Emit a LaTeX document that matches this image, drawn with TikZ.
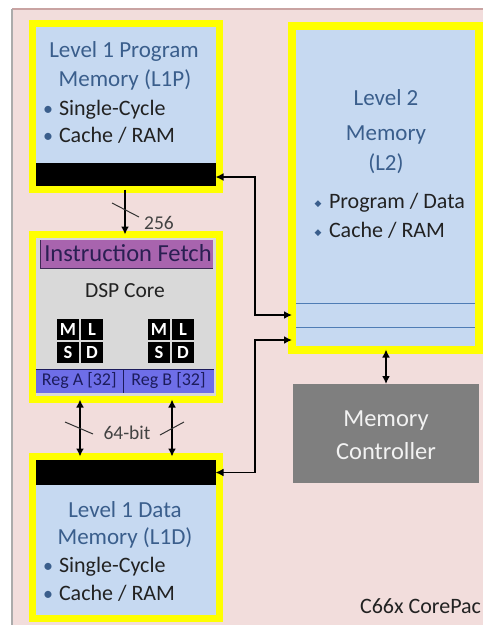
\documentclass[tikz,border=0pt]{standalone}
\usepackage{fontspec}
\setmainfont{Carlito}
\newfontfamily\symfont{DejaVu Sans}
\usetikzlibrary{arrows.meta,calc}

\definecolor{bgpink}{HTML}{F2DDDC}
\definecolor{edgepink}{HTML}{C9A3A2}
\definecolor{edgegray}{HTML}{ABABAB}
\definecolor{memblue}{HTML}{C6D9F1}
\definecolor{titleblue}{HTML}{3A5E8C}
\definecolor{bodytext}{HTML}{222222}
\definecolor{coregray}{HTML}{D9D9D9}
\definecolor{fetchpurple}{HTML}{A864AE}
\definecolor{fetchtext}{HTML}{2A1F52}
\definecolor{fetchedge}{HTML}{3E2A55}
\definecolor{regblue}{HTML}{6E6EE8}
\definecolor{regtext}{HTML}{1C1C5C}
\definecolor{rowline}{HTML}{4F7DB5}
\definecolor{ctrlgray}{HTML}{7F7F7F}
\definecolor{ctrltext}{HTML}{F2F2F2}
\definecolor{hiyellow}{HTML}{FFFF00}

\begin{document}
\begin{tikzpicture}[x=1pt,y=-1pt,
  every node/.style={outer sep=0pt, inner sep=0pt},
  membox/.style={rectangle, draw=hiyellow, line width=7pt, fill=memblue},
  corebox/.style={rectangle, draw=hiyellow, line width=7pt, fill=coregray},
  busbar/.style={rectangle, fill=black},
  unitcell/.style={rectangle, fill=black, minimum width=22pt, minimum height=21pt,
    text=white, font=\fontsize{18.5}{18}\selectfont\bfseries},
  regcell/.style={rectangle, fill=regblue, minimum height=24pt, text=regtext,
    font=\fontsize{18}{18}\selectfont},
  title/.style={anchor=base, text=titleblue, font=\fontsize{23}{26}\selectfont},
  bullet/.style={anchor=base west, text=bodytext, font=\fontsize{22}{26}\selectfont},
  dot/.style={anchor=base, text=titleblue, font=\fontsize{20}{26}\selectfont},
  diam/.style={anchor=base, text=titleblue, font=\symfont\fontsize{9}{10}\selectfont},
  dbl/.style={{Latex[length=8pt,width=8pt]}-{Latex[length=8pt,width=8pt]}, line width=1.8pt, black},
  single/.style={-{Latex[length=8pt,width=8pt]}, line width=1.8pt, black},
  slash/.style={line width=1pt, black!80},
  buslabel/.style={anchor=base, text=bodytext!85, font=\fontsize{19.5}{20}\selectfont}]

\useasboundingbox (0,0) rectangle (483,634);

% panel background
\fill[white] (0,0) rectangle (483,634);
\fill[bgpink] (12,9) rectangle (483,625);
\draw[edgepink, line width=1.5pt] (12,9) -- (483,9);
\draw[edgegray, line width=1.2pt] (12,9) -- (12,625);

% Level 1 program memory
\node[membox, minimum width=187pt, minimum height=165.5pt] (l1p) at (125.5,106.75) {};
\node[busbar, minimum width=180pt, minimum height=23pt] (l1pbus) at (125.5,174.5) {};
\node[title] (l1pt1) at (124,58) {Level 1 Program};
\node[title] (l1pt2) at (125,86) {Memory (L1P)};
\node[dot] (l1pd1) at (48,115) {•};
\node[bullet] (l1pb1) at (59,115) {Single-Cycle};
\node[dot] (l1pd2) at (48,142) {•};
\node[bullet] (l1pb2) at (59,142) {Cache / RAM};

% DSP core
\node[corebox, minimum width=187pt, minimum height=165pt] (dsp) at (125.5,317) {};
\node[rectangle, fill=fetchpurple, minimum width=173pt, minimum height=28pt] (fetch) at (126.5,254) {};
\draw[fetchedge, line width=1pt] (fetch.north west) -- (fetch.south west) -- (fetch.south east);
\node[anchor=base, text=fetchtext, font=\fontsize{24.5}{26}\selectfont] (fetcht) at (128,261) {Instruction Fetch};
\node[anchor=base, text=bodytext, font=\fontsize{21.5}{24}\selectfont] (coret) at (125,297) {DSP Core};

\node[unitcell] (ma) at (68,329.5) {M};
\node[unitcell] (la) at (92,329.5) {L};
\node[unitcell] (sa) at (68,352.5) {S};
\node[unitcell] (da) at (92,352.5) {D};
\node[unitcell] (mb) at (159,329.5) {M};
\node[unitcell] (lb) at (183,329.5) {L};
\node[unitcell] (sb) at (159,352.5) {S};
\node[unitcell] (db) at (183,352.5) {D};

\node[regcell, minimum width=87.5pt] (rega) at (79.25,381) {Reg A [32]};
\node[regcell, minimum width=91pt] (regb) at (168.5,381) {Reg B [32]};
\draw[regtext, line width=0.8pt] (rega.north west) -- (regb.north east);
\draw[regtext, line width=1pt] (rega.north east) -- (rega.south east);

% Level 1 data memory
\node[membox, minimum width=187pt, minimum height=162pt] (l1d) at (125.5,537.5) {};
\node[busbar, minimum width=180pt, minimum height=25pt] (l1dbus) at (125.5,472.5) {};
\node[title] (l1dt1) at (125,517) {Level 1 Data};
\node[title] (l1dt2) at (125,544) {Memory (L1D)};
\node[dot] (l1dd1) at (48,572) {•};
\node[bullet] (l1db1) at (59,572) {Single-Cycle};
\node[dot] (l1dd2) at (48,600) {•};
\node[bullet] (l1db2) at (59,600) {Cache / RAM};

% Level 2 memory
\node[membox, line width=8pt, minimum width=186.5pt, minimum height=323.5pt] (l2) at (385.25,187.75) {};
\draw[rowline, line width=1pt] (296,303) -- (474.5,303);
\draw[rowline, line width=1pt] (296,327) -- (474.5,327);
\node[title] (l2t1) at (386,105) {Level 2};
\node[title] (l2t2) at (386,140) {Memory};
\node[title] (l2t3) at (386,170) {(L2)};
\node[diam] (l2d1) at (318,206) {◆};
\node[bullet, font=\fontsize{22}{26}\selectfont] (l2b1) at (329,208) {Program / Data};
\node[diam] (l2d2) at (318,235) {◆};
\node[bullet, font=\fontsize{22}{26}\selectfont] (l2b2) at (329,237) {Cache / RAM};

% memory controller
\node[rectangle, fill=ctrlgray, minimum width=186pt, minimum height=99pt] (mc) at (386,433.5) {};
\node[anchor=base, text=ctrltext, font=\fontsize{24.5}{28}\selectfont] (mct1) at (386,426) {Memory};
\node[anchor=base, text=ctrltext, font=\fontsize{24.5}{28}\selectfont] (mct2) at (386,459) {Controller};

% caption in the lower right corner
\node[anchor=base east, text=bodytext, font=\fontsize{22}{24}\selectfont] (cap) at (481,613) {C66x CorePac};

% connectors
\draw[single] (l1p.south -| 125,0) -- (dsp.north -| 125,0);
\draw[slash] (112,203) -- (139,217);
\node[buslabel] (w256) at (159,229) {256};

\draw[dbl] (dsp.south -| 80,0) -- (l1d.north -| 80,0);
\draw[dbl] (dsp.south -| 172,0) -- (l1d.north -| 172,0);
\draw[slash] (65,422) -- (93,434);
\draw[slash] (160,435) -- (184,422);
\node[buslabel] (w64) at (127,439) {64-bit};

\coordinate (p1) at (l2.west |- 0,315);
\coordinate (p2) at (l2.west |- 0,340);
\draw[dbl] (l1pbus.east |- 0,177) -| ([xshift=-37pt]p1) -- (p1);
\draw[dbl] (l1dbus.east) -| ([xshift=-37pt]p2) -- (p2);
\draw[dbl] (l2.south -| mc.north) -- (mc.north);

\end{tikzpicture}
\end{document}
